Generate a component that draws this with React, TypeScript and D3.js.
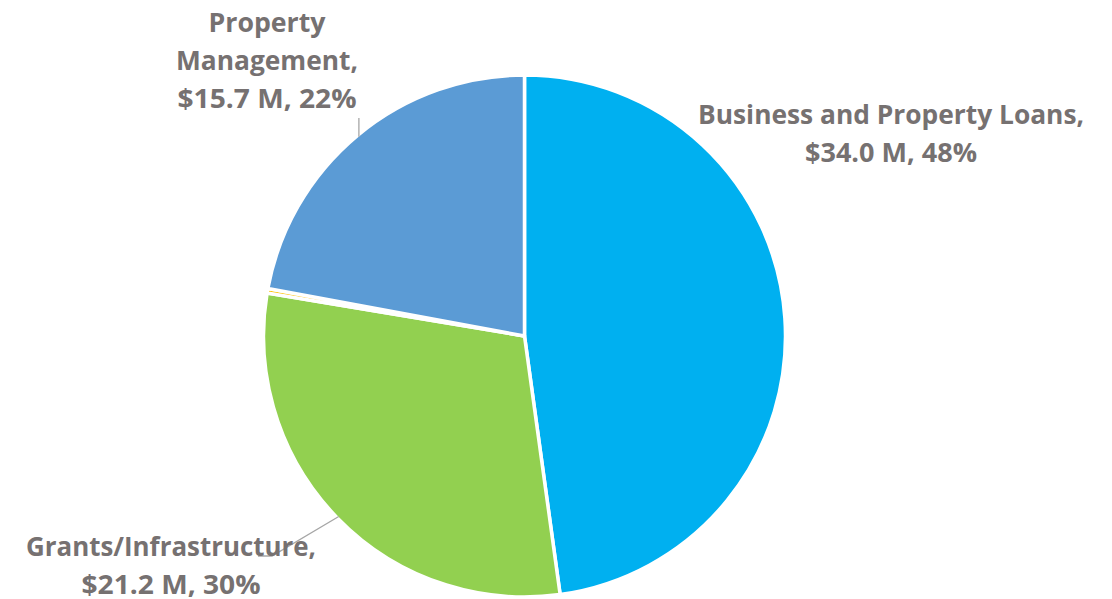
import React from "react";
import * as d3 from "d3";

const categories = ["Business and Property Loans", "Grants/Infrastructure", "Other", "Property Management"];
const values = [34.0, 21.2, 0.2, 15.7];
const colors = ["#00B0F0", "#92D050", "#FFC000", "#5B9BD5"];
const labelLines: string[][] = [
  ["Business and Property Loans,", "$34.0 M, 48%"],
  ["Grants/Infrastructure,", "$21.2 M, 30%"],
  [],
  ["Property", "Management,", "$15.7 M, 22%"],
];

const W = 1112;
const H = 599;
const cx = 524.5;
const cy = 336;
const R = 261;
const lineH = 38;
const fontSize = 27;
const textColor = "#767171";

// label layout: center x, first baseline y, line widths (px) and leader elbow
const labelLayout = [
  { x: 891, y: 124, widths: [386, 172], leader: null as null | number[][] },
  { x: 171, y: 556, widths: [290, 179], leader: [[272, 556], [258, 556]] },
  null,
  { x: 267, y: 32, widths: [117, 182, 179], leader: [[0, 118]] },
];

export default function App() {
  const pie = d3.pie<number>().sort(null).value((d) => d).startAngle(0).endAngle(2 * Math.PI);
  const arcs = pie(values);
  const arc = d3.arc<d3.PieArcDatum<number>>().innerRadius(0).outerRadius(R);

  return (
    <svg
      width={W}
      height={H}
      style={{ position: "absolute", left: 0, top: 0, background: "#fff" }}
      fontFamily="'Open Sans', 'Noto Sans', sans-serif"
    >
      <g transform={`translate(${cx},${cy})`}>
        {arcs.map((a, i) => (
          <path key={categories[i]} d={arc(a) || ""} fill={colors[i]} stroke="#fff" strokeWidth={3.5} strokeLinejoin="round" />
        ))}
      </g>
      {arcs.map((a, i) => {
        const lay = labelLayout[i];
        if (!lay) return null;
        const mid = (a.startAngle + a.endAngle) / 2;
        const px = cx + Math.sin(mid) * (R - 2);
        const py = cy - Math.cos(mid) * (R - 2);
        let leader: string | null = null;
        if (lay.leader) {
          const pts = [[px, py], ...lay.leader.map((p) => [p[0] === 0 ? px : p[0], p[1]])];
          leader = d3.line()(pts as [number, number][]);
        }
        return (
          <g key={"lab" + i}>
            {leader && <path d={leader} fill="none" stroke="#A6A6A6" strokeWidth={1.3} />}
            <text
              textAnchor="middle"
              fill={textColor}
              fontWeight="bold"
              fontSize={fontSize}
            >
              {labelLines[i].map((t, j) => (
                <tspan
                  key={j}
                  x={lay.x}
                  y={lay.y + j * lineH}
                  textLength={lay.widths[j]}
                  lengthAdjust="spacingAndGlyphs"
                >
                  {t}
                </tspan>
              ))}
            </text>
          </g>
        );
      })}
    </svg>
  );
}
